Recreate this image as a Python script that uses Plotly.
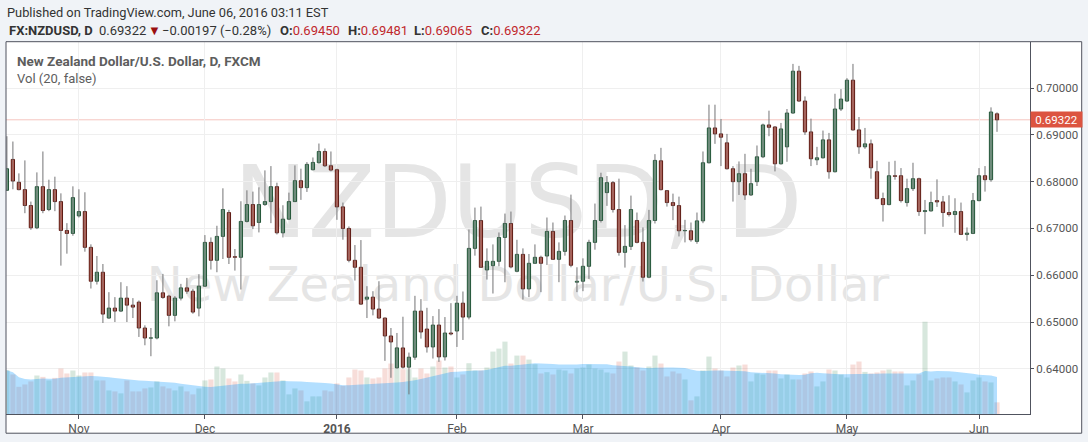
import pandas as pd
import plotly.graph_objects as go

# ---------------- data ----------------
dates = [d.strftime("%Y-%m-%d") for d in pd.bdate_range("2015-10-15", "2016-06-06")
         if d.strftime("%m-%d") not in ("12-25", "01-01")]

opens = [0.67815, 0.68475, 0.67986, 0.67830, 0.67490, 0.67014, 0.67893, 0.67404, 0.67830, 0.67574,
         0.66957, 0.66893, 0.67269, 0.67361, 0.66596, 0.65872, 0.66064, 0.65085, 0.65298, 0.65234,
         0.65511, 0.65361, 0.65425, 0.64872, 0.64655, 0.64659, 0.65624, 0.65553, 0.65142, 0.65511,
         0.65730, 0.65659, 0.65298, 0.65766, 0.66702, 0.66319, 0.66830, 0.67340, 0.66397, 0.66383,
         0.67150, 0.67511, 0.67128, 0.67511, 0.67574, 0.67893, 0.66907, 0.67198, 0.67574, 0.68021,
         0.67872, 0.68255, 0.68404, 0.68645, 0.68340, 0.68255, 0.67461, 0.67000, 0.66319, 0.66170,
         0.65489, 0.65532, 0.65277, 0.65085, 0.64702, 0.64021, 0.64446, 0.64035, 0.64248, 0.65233,
         0.64850, 0.64467, 0.64935, 0.64255, 0.64765, 0.64808, 0.65403, 0.65106, 0.66574, 0.67169,
         0.66113, 0.66205, 0.66297, 0.66808, 0.67106, 0.66084, 0.66446, 0.65708, 0.66255, 0.66383,
         0.66411, 0.66936, 0.66340, 0.66510, 0.67170, 0.65851, 0.65872, 0.66191, 0.66702, 0.67170,
         0.67766, 0.67979, 0.67404, 0.66489, 0.66617, 0.67170, 0.66702, 0.65957, 0.67170, 0.68446,
         0.67808, 0.67553, 0.67489, 0.66950, 0.66950, 0.66723, 0.67162, 0.68404, 0.69148, 0.69021,
         0.68830, 0.68276, 0.68000, 0.68170, 0.67716, 0.68000, 0.68531, 0.69212, 0.69169, 0.68382,
         0.68744, 0.69467, 0.70361, 0.69723, 0.69063, 0.68467, 0.68510, 0.68893, 0.68212, 0.69553,
         0.69723, 0.70169, 0.69106, 0.68744, 0.68808, 0.68212, 0.67638, 0.67510, 0.68127, 0.68127,
         0.67553, 0.67851, 0.68063, 0.67361, 0.67375, 0.67595, 0.67567, 0.67340, 0.67297, 0.67361,
         0.66872, 0.66893, 0.67595, 0.68127, 0.68042, 0.69450]

highs = [0.68971, 0.68858, 0.68177, 0.68454, 0.67574, 0.68198, 0.68645, 0.68042, 0.68106, 0.67750,
         0.67113, 0.67900, 0.67837, 0.67773, 0.66660, 0.66411, 0.66240, 0.65638, 0.65532, 0.65851,
         0.65766, 0.65511, 0.65461, 0.64929, 0.64872, 0.65893, 0.66028, 0.65581, 0.65553, 0.65815,
         0.65943, 0.65709, 0.66021, 0.66858, 0.66808, 0.67057, 0.67858, 0.67397, 0.66560, 0.67581,
         0.67815, 0.67787, 0.67879, 0.68241, 0.68333, 0.67978, 0.67496, 0.67766, 0.68347, 0.68277,
         0.68418, 0.68517, 0.68815, 0.68710, 0.68645, 0.68277, 0.67553, 0.67043, 0.66645, 0.66752,
         0.65766, 0.65659, 0.65872, 0.65090, 0.64872, 0.64766, 0.65113, 0.64347, 0.65560, 0.65489,
         0.65304, 0.65127, 0.65276, 0.65106, 0.65403, 0.65560, 0.65652, 0.66978, 0.67446, 0.67467,
         0.66574, 0.66659, 0.66914, 0.67318, 0.67361, 0.66758, 0.66574, 0.66454, 0.66659, 0.66418,
         0.67234, 0.67127, 0.66702, 0.67276, 0.67723, 0.66170, 0.66361, 0.66759, 0.67532, 0.68191,
         0.68120, 0.68014, 0.68064, 0.67071, 0.67702, 0.67340, 0.67021, 0.67397, 0.68588, 0.68723,
         0.67822, 0.67744, 0.67680, 0.67184, 0.67127, 0.67340, 0.68645, 0.69645, 0.69645, 0.69340,
         0.69021, 0.68333, 0.68432, 0.68595, 0.68276, 0.68773, 0.69240, 0.69517, 0.69184, 0.69255,
         0.69553, 0.70517, 0.70475, 0.69822, 0.69347, 0.68744, 0.69092, 0.69042, 0.69879, 0.69978,
         0.70212, 0.70517, 0.69382, 0.69148, 0.68900, 0.68446, 0.67766, 0.68425, 0.68446, 0.68290,
         0.68063, 0.68404, 0.68085, 0.67609, 0.67787, 0.68049, 0.67695, 0.67709, 0.67645, 0.67553,
         0.67021, 0.67758, 0.68290, 0.68333, 0.69588, 0.69481]

lows = [0.67800, 0.67837, 0.67815, 0.67326, 0.66971, 0.66986, 0.67326, 0.67369, 0.67369, 0.66205,
        0.66461, 0.66844, 0.67234, 0.66503, 0.65716, 0.65801, 0.64979, 0.65071, 0.65000, 0.65213,
        0.65000, 0.65085, 0.64681, 0.64503, 0.64269, 0.64630, 0.65496, 0.64908, 0.65014, 0.65461,
        0.65603, 0.65177, 0.65121, 0.65752, 0.66121, 0.66064, 0.66347, 0.66240, 0.66099, 0.65695,
        0.67128, 0.66986, 0.66915, 0.67482, 0.67113, 0.66872, 0.66808, 0.67184, 0.67567, 0.67610,
        0.67780, 0.68240, 0.68390, 0.68312, 0.68220, 0.67184, 0.66759, 0.66276, 0.65886, 0.65368,
        0.65085, 0.65142, 0.65071, 0.64170, 0.63808, 0.64007, 0.64006, 0.63453, 0.64191, 0.64645,
        0.64347, 0.64219, 0.64148, 0.64177, 0.64715, 0.64467, 0.64616, 0.65056, 0.66418, 0.66155,
        0.65907, 0.65609, 0.66191, 0.65850, 0.66148, 0.66063, 0.65480, 0.65532, 0.66240, 0.65638,
        0.66220, 0.66326, 0.65851, 0.66418, 0.66170, 0.65638, 0.65659, 0.65922, 0.66546, 0.67127,
        0.67482, 0.67340, 0.66418, 0.66163, 0.66539, 0.66681, 0.65865, 0.65936, 0.67106, 0.67815,
        0.67467, 0.67177, 0.66829, 0.66702, 0.66716, 0.66673, 0.67113, 0.68390, 0.68808, 0.68333,
        0.68262, 0.67574, 0.67716, 0.67610, 0.67695, 0.67907, 0.68503, 0.68971, 0.68219, 0.68368,
        0.68425, 0.69453, 0.69709, 0.68999, 0.68333, 0.68354, 0.68496, 0.68063, 0.68198, 0.69510,
        0.69709, 0.69092, 0.68595, 0.68701, 0.68063, 0.67624, 0.67148, 0.67496, 0.68042, 0.67553,
        0.67467, 0.67801, 0.67269, 0.66877, 0.67361, 0.67460, 0.67035, 0.67255, 0.66907, 0.66858,
        0.66737, 0.66879, 0.67581, 0.67787, 0.67999, 0.69065]

closes = [0.68276, 0.68014, 0.67830, 0.67490, 0.67014, 0.67893, 0.67383, 0.67830, 0.67574, 0.66957,
          0.66893, 0.67659, 0.67361, 0.66596, 0.65872, 0.66064, 0.65170, 0.65298, 0.65234, 0.65511,
          0.65361, 0.65319, 0.64872, 0.64659, 0.64662, 0.65624, 0.65525, 0.65142, 0.65511, 0.65730,
          0.65659, 0.65213, 0.65766, 0.66702, 0.66319, 0.66830, 0.67404, 0.66383, 0.66383, 0.67150,
          0.67511, 0.67057, 0.67511, 0.67574, 0.67893, 0.66907, 0.67198, 0.67574, 0.68021, 0.67872,
          0.68369, 0.68411, 0.68645, 0.68340, 0.68248, 0.67461, 0.67000, 0.66319, 0.66170, 0.65383,
          0.65532, 0.65277, 0.65085, 0.64702, 0.64574, 0.64447, 0.64035, 0.64248, 0.65233, 0.64787,
          0.64467, 0.64935, 0.64255, 0.64765, 0.64744, 0.65403, 0.65106, 0.66574, 0.67169, 0.66169,
          0.66297, 0.66297, 0.66808, 0.67106, 0.66177, 0.66446, 0.65708, 0.66255, 0.66383, 0.66255,
          0.66936, 0.66340, 0.66510, 0.67170, 0.66213, 0.65872, 0.66191, 0.66702, 0.67170, 0.68085,
          0.67979, 0.67404, 0.66489, 0.66617, 0.67404, 0.66702, 0.65957, 0.67170, 0.68454, 0.67829,
          0.67553, 0.67489, 0.66950, 0.66957, 0.66758, 0.67162, 0.68404, 0.69148, 0.69021, 0.68950,
          0.68276, 0.68000, 0.68170, 0.67716, 0.67957, 0.68531, 0.69212, 0.69162, 0.68382, 0.69127,
          0.69467, 0.70361, 0.69723, 0.69063, 0.68489, 0.68510, 0.68893, 0.68212, 0.69553, 0.69765,
          0.70169, 0.69106, 0.68744, 0.68808, 0.68297, 0.67638, 0.67510, 0.68127, 0.68113, 0.67595,
          0.67851, 0.68063, 0.67361, 0.67382, 0.67553, 0.67567, 0.67340, 0.67297, 0.67361, 0.66872,
          0.66900, 0.67595, 0.68127, 0.68042, 0.69489, 0.69322]

# volume, relative units (no scale shown on the chart)
volumes = [44, 39.7, 27.3, 29.7, 32.7, 38.7, 37.3, 33.7, 36.3, 45.7,
           40.7, 43.7, 38.7, 41.7, 41.7, 33.7, 33.7, 23.7, 22.7, 20.7,
           33.7, 22.7, 22.7, 25.7, 26.7, 32.7, 27.7, 25.7, 23.7, 27.7,
           22.7, 19.7, 25.7, 33.7, 34.7, 47.7, 45.7, 35.7, 32.7, 39.7,
           33.3, 30.7, 28.7, 36.7, 41.7, 41.7, 33.7, 19.7, 25.7, 23.7,
           12.7, 17.7, 17.7, 23.7, 22.7, 30.7, 28.3, 36.7, 44.7, 43.7,
           36.7, 35.7, 36.7, 45.7, 50.7, 45.7, 45, 45, 36.7, 45.7,
           40.7, 47.7, 53.7, 46.7, 47.7, 36.7, 39.7, 51, 43.7, 43.7,
           46.7, 62.7, 65.7, 72.7, 50.7, 58.7, 58.7, 54.7, 50, 40.7,
           42, 39.7, 44.7, 43.7, 40.7, 45.7, 46.7, 49.7, 45.7, 44.7,
           41.7, 40.7, 52.7, 62.7, 48.7, 46.7, 43.7, 47.7, 58.7, 50.7,
           37.7, 42.7, 40.7, 34.7, 13.7, 17.7, 43.7, 57.7, 45.7, 43.7,
           37.7, 46.7, 48.7, 49.7, 32.7, 40.7, 39.7, 43.7, 43.7, 35.7,
           39.7, 34.7, 34.7, 40.7, 42.7, 27.7, 32.7, 44.7, 43.7, 39.7,
           36.7, 49.7, 52.7, 42.3, 40.7, 41.7, 43.7, 44.7, 42.7, 42.7,
           28.7, 33.7, 39.7, 92.7, 33.7, 35.7, 36.7, 36.7, 32.7, 29.7,
           21.7, 33.7, 36.7, 32.7, 31.7, 11.7]

vol_ma_length = 20
month_names = {1: "2016", 2: "Feb", 3: "Mar", 4: "Apr", 5: "May", 6: "Jun",
               11: "Nov", 12: "Dec"}

symbol = "FX:NZDUSD, D"
last_change = "−0.00197 (−0.28%)"
last_ohlc = [("O", "0.69450"), ("H", "0.69481"), ("L", "0.69065"), ("C", "0.69322")]

# ---------------- derived ----------------
n = len(closes)
idx = list(range(n))
is_up = [c >= o for o, c in zip(opens, closes)]
vol_ma = pd.Series(volumes).rolling(vol_ma_length, min_periods=1).mean().tolist()

tickvals, ticktext = [], []
prev_month = None
for i, d in enumerate(dates):
    m = int(d[5:7])
    if m != prev_month and prev_month is not None:
        tickvals.append(i)
        ticktext.append("<b>2016</b>" if m == 1 else month_names[m])
    prev_month = m

wick_x, wick_y = [], []
for i in idx:
    wick_x += [i, i, None]
    wick_y += [lows[i], highs[i], None]

body_base = [min(o, c) for o, c in zip(opens, closes)]
body_len = [max(abs(c - o), 0.00002) for o, c in zip(opens, closes)]

UP_FILL, UP_LINE = "#6ba583", "#225437"
DN_FILL, DN_LINE = "#d75442", "#5b1a13"
WICK = "#737375"
AXIS = "#50535e"
GRID = "#efefef"
FONT = "Roboto"
TXT = "#333333"
RED = "#c0282d"

fig = go.Figure()

# volume columns (base axis, drawn beneath price)
fig.add_trace(go.Bar(
    x=idx, y=volumes, width=0.86, yaxis="y",
    marker=dict(color=["rgba(107,165,131,0.27)" if u else "rgba(215,84,66,0.2)" for u in is_up],
                line=dict(width=0)),
    hoverinfo="skip"))
# volume moving average area
fig.add_trace(go.Scatter(
    x=idx, y=vol_ma, yaxis="y", mode="lines", fill="tozeroy",
    line=dict(width=0, color="rgba(4,150,255,0.3)"), fillcolor="rgba(4,150,255,0.30)",
    hoverinfo="skip"))
# wicks
fig.add_trace(go.Scatter(
    x=wick_x, y=wick_y, yaxis="y2", mode="lines",
    line=dict(color=WICK, width=1), hoverinfo="skip"))
# bodies
fig.add_trace(go.Bar(
    x=idx, y=body_len, base=body_base, width=0.54, yaxis="y2",
    marker=dict(color=[UP_FILL if u else DN_FILL for u in is_up],
                line=dict(color=[UP_LINE if u else DN_LINE for u in is_up], width=1)),
    hoverinfo="skip"))

last_close = closes[-1]

# pixel geometry helpers (paper coordinates)
L, R, T, B = 6, 1030, 42, 415.7
W, H = R - L, B - T
def px(x):
    return (x - L) / W
def py(y):
    return (B - y) / H

shapes = [
    # white chart panel
    dict(type="rect", xref="paper", yref="paper", x0=0, x1=px(1081.7), y0=py(435), y1=1,
         fillcolor="white", line=dict(width=0), layer="below"),
    # watermarks
    dict(type="rect", xref="paper", yref="paper", x0=0.1, x1=0.9, y0=py(196) - 0.1, y1=py(196) + 0.1,
         line=dict(width=0), fillcolor="rgba(0,0,0,0)", layer="below",
         label=dict(text="NZDUSD, D", textposition="middle center",
                    font=dict(family="DejaVu Sans", size=99, color="#e5e5e5"))),
    dict(type="rect", xref="paper", yref="paper", x0=0.05, x1=0.95, y0=py(282) - 0.05, y1=py(282) + 0.05,
         line=dict(width=0), fillcolor="rgba(0,0,0,0)", layer="below",
         label=dict(text="New Zealand Dollar/U.S. Dollar", textposition="middle center",
                    font=dict(family="DejaVu Sans", size=48, color="#e5e5e5"))),
    # last price line
    dict(type="line", xref="paper", yref="y2", x0=0, x1=1, y0=last_close, y1=last_close,
         line=dict(color="#f6c5bf", width=1), layer="below"),
    # outer frame
    dict(type="rect", xref="paper", yref="paper", x0=0, x1=px(1081.7), y0=py(435), y1=py(41.7),
         line=dict(color=AXIS, width=1), fillcolor="rgba(0,0,0,0)", layer="above"),
]

def note(text, x, y, size=13, color=TXT, **kw):
    d = dict(text=text, xref="paper", yref="paper", x=px(x), y=py(y),
             xanchor="left", yanchor="middle", showarrow=False,
             font=dict(family=FONT, size=size, color=color))
    d.update(kw)
    return d

annotations = [
    note("Published on TradingView.com, June 06, 2016 03:11 EST", 5, 12.5, size=12.8),
    note(f"<b>{symbol}</b>", 7, 30.5),
    note(f"{last_close:.5f}", 97, 30.5),
    note("▼", 146, 30.5, color="#9a0f0f"),
    note(last_change, 160, 30.5),
]
for (k, v), x0 in zip(last_ohlc, [278, 345.5, 412, 479]):
    annotations.append(note(f"<b>{k}:</b><span style='color:{RED}'>{v}</span>", x0, 30.5))
annotations += [
    note("<b>New Zealand Dollar/U.S. Dollar, D, FXCM</b>", 14.5, 61, size=13.5, color="#5d5d5d"),
    note("Vol (20, false)", 14.5, 78.5, size=13, color="#5d5d5d"),
    dict(text=f"{last_close:.5f}", xref="paper", yref="y2", x=1, y=last_close,
         xanchor="left", yanchor="middle", showarrow=False, width=51, height=15,
         align="center", bgcolor="#dc5440", borderpad=0,
         font=dict(family=FONT, size=11.5, color="white")),
]

fig.update_layout(
    width=1088, height=442, autosize=False,
    margin=dict(l=L, r=1088 - R, t=T, b=442 - B, pad=0),
    paper_bgcolor="#f0f3f7", plot_bgcolor="rgba(0,0,0,0)",
    showlegend=False, barmode="overlay",
    xaxis=dict(range=[-0.15, 170.5], tickvals=tickvals, ticktext=ticktext,
               showgrid=True, gridcolor=GRID, gridwidth=1, zeroline=False,
               showline=True, linecolor=AXIS, linewidth=1,
               ticks="outside", ticklen=4, tickcolor=AXIS,
               tickfont=dict(family=FONT, size=12, color="#555555")),
    yaxis=dict(range=[0, H], visible=False, fixedrange=True),
    yaxis2=dict(overlaying="y", side="right", range=[0.63034, 0.70985],
                tick0=0.64, dtick=0.01, tickformat=".5f",
                showgrid=True, gridcolor=GRID, gridwidth=1, zeroline=False,
                showline=True, linecolor=AXIS, linewidth=1,
                ticks="outside", ticklen=3, tickcolor=AXIS,
                tickfont=dict(family=FONT, size=11.5, color="#555555")),
    shapes=shapes, annotations=annotations,
)

fig.write_html("out.html", config={"displayModeBar": False},
               post_script="document.body.style.margin='0px';")
